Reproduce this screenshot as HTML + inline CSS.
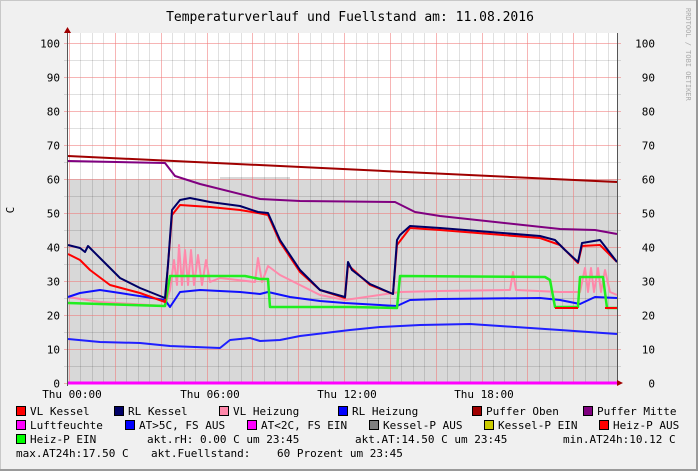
<!DOCTYPE html><html><head><style>body{margin:0;background:#f0f0f0}svg{display:block}</style></head><body>
<svg width="698" height="471" xmlns="http://www.w3.org/2000/svg" font-family="DejaVu Sans Mono, Liberation Mono, monospace" font-size="11">
<rect x="0" y="0" width="698" height="471" fill="#f0f0f0"/>
<rect x="0.5" y="0.5" width="697" height="470" fill="none" stroke="#c8c8c8"/>
<line x1="0" y1="470" x2="698" y2="470" stroke="#9a9a9a" stroke-width="2"/><line x1="697" y1="0" x2="697" y2="471" stroke="#9a9a9a" stroke-width="2"/>
<text x="350" y="21" text-anchor="middle" font-size="13">Temperaturverlauf und Fuellstand am: 11.08.2016</text>
<text x="0" y="0" transform="translate(686,8) rotate(90)" font-size="7" fill="#aaa">RRDTOOL / TOBI OETIKER</text>
<rect x="68" y="33" width="549" height="350" fill="#fff"/>
<rect x="68" y="179" width="549" height="204" fill="#d8d8d8"/>
<rect x="220" y="177" width="70" height="2" fill="#d8d8d8"/>
<g stroke="#ddd" stroke-width="1" id="minor"></g>
<g id="grid"></g>
<text x="14" y="210" font-size="11" transform="rotate(-90 14 210)" text-anchor="middle">C</text>
<g fill="none" stroke-width="2" stroke-linejoin="round">
<polyline stroke="#a00000" points="68,156 617,182"/>
<polyline stroke="#800080" points="68,161 165,163 175,176 200,184 260,199 300,201 395,202 415,212 440,216 560,229 595,230 617,234"/>
<polyline stroke="#2020ff" points="68,339 100,342 140,343 170,346 220,348 230,340 250,338 260,341 280,340 300,336 350,330 380,327 420,325 470,324 500,326 560,330 617,334"/>
<polyline stroke="#ff88aa" points="68,297 100,302 165,306 170,290 174,260 177,285 179,245 182,285 185,250 188,285 191,250 194,285 198,255 202,285 206,260 210,282 220,278 255,282 258,258 262,282 268,266 280,275 320,295 345,300 400,292 440,291 510,290 513,272 516,290 560,292 580,292 585,268 588,292 591,268 594,292 598,268 601,292 605,270 610,292 617,295"/>
<polyline stroke="#1010ff" points="68,297 80,293 100,290 120,293 165,300 170,307 180,292 200,290 240,292 260,294 268,292 290,297 320,301 345,303 397,306 410,300 440,299 540,298 560,300 580,304 595,297 617,298"/>
<polyline stroke="#20ee20" stroke-width="2.5" points="68,303 165,306 170,276 245,276 260,279 268,279 270,307 350,307 397,308 400,276 545,277 550,280 555,307 578,307 580,277 603,277 607,308 617,308"/>
<polyline stroke="#ff0000" points="68,254 80,260 90,270 110,285 140,293 165,302 172,215 180,205 210,207 240,210 258,213 268,215 280,242 300,272 320,290 345,298 348,265 370,285 393,294 397,245 410,228 440,230 540,238 560,245 578,263 582,246 600,245 617,262"/>
<polyline stroke="#ff0000" points="555,308 578,308"/><polyline stroke="#ff0000" points="605,308 617,308"/>
<polyline stroke="#000066" points="68,245 80,248 85,252 88,246 100,258 120,278 140,288 165,298 168,265 172,210 180,200 190,198 210,202 240,206 258,212 268,213 280,240 300,270 320,290 345,297 348,262 352,270 370,284 393,294 397,240 400,235 410,226 440,228 540,236 555,240 565,250 578,262 582,243 600,240 617,262"/>
</g>
<line x1="68" y1="383" x2="617" y2="383" stroke="#ff00ff" stroke-width="3"/>
<line x1="67.5" y1="30" x2="67.5" y2="386" stroke="#555"/>
<polygon points="64,33 71,33 67.5,27" fill="#a00000"/>
<line x1="617.5" y1="33" x2="617.5" y2="383" stroke="#555"/>
<polygon points="617,380 617,386 623,383" fill="#a00000"/>
<g id="ylab" text-anchor="end"></g>
<g text-anchor="middle"><text x="72" y="398">Thu 00:00</text><text x="210" y="398">Thu 06:00</text><text x="347" y="398">Thu 12:00</text><text x="484" y="398">Thu 18:00</text></g>
<g stroke="#000" stroke-width="1">
<rect x="16.5" y="406.5" width="9" height="9" fill="#ff0000"/><rect x="114.5" y="406.5" width="9" height="9" fill="#000066"/><rect x="219.5" y="406.5" width="9" height="9" fill="#ff88aa"/><rect x="338.5" y="406.5" width="9" height="9" fill="#0000ff"/><rect x="472.5" y="406.5" width="9" height="9" fill="#a00000"/><rect x="583.5" y="406.5" width="9" height="9" fill="#800080"/>
<rect x="16.5" y="420.5" width="9" height="9" fill="#ff00ff"/><rect x="125.5" y="420.5" width="9" height="9" fill="#0000ff"/><rect x="247.5" y="420.5" width="9" height="9" fill="#ff00ff"/><rect x="369.5" y="420.5" width="9" height="9" fill="#808080"/><rect x="484.5" y="420.5" width="9" height="9" fill="#cccc00"/><rect x="599.5" y="420.5" width="9" height="9" fill="#ff0000"/>
<rect x="16.5" y="434.5" width="9" height="9" fill="#00ff00"/>
</g>
<g>
<text x="30" y="415">VL Kessel</text><text x="128" y="415">RL Kessel</text><text x="233" y="415">VL Heizung</text><text x="352" y="415">RL Heizung</text><text x="486" y="415">Puffer Oben</text><text x="597" y="415">Puffer Mitte</text>
<text x="30" y="429">Luftfeuchte</text><text x="139" y="429">AT&gt;5C, FS AUS</text><text x="261" y="429">AT&lt;2C, FS EIN</text><text x="383" y="429">Kessel-P AUS</text><text x="498" y="429">Kessel-P EIN</text><text x="613" y="429">Heiz-P AUS</text>
<text x="30" y="443">Heiz-P EIN</text><text x="147" y="443">akt.rH: 0.00 C um 23:45</text><text x="355" y="443">akt.AT:14.50 C um 23:45</text><text x="563" y="443">min.AT24h:10.12 C</text>
<text x="16" y="457">max.AT24h:17.50 C</text><text x="151" y="457">akt.Fuellstand:</text><text x="277" y="457">60 Prozent um 23:45</text>
</g>
<script>
var ns="http://www.w3.org/2000/svg",m=document.getElementById("minor"),g=document.getElementById("grid"),yl=document.getElementById("ylab");
function L(p,x1,y1,x2,y2,c){var l=document.createElementNS(ns,"line");l.setAttribute("x1",x1);l.setAttribute("y1",y1);l.setAttribute("x2",x2);l.setAttribute("y2",y2);l.setAttribute("stroke",c);l.setAttribute("stroke-width",1);p.appendChild(l);}
for(var i=0;i<48;i++){var x=Math.round(69+11.46*i)+0.5;if(x>617)break;L(i%4==0?g:m,x,33,x,383,i%4==0?"rgba(240,120,120,0.55)":"rgba(0,0,0,0.12)");}
for(var v=0;v<=100;v+=5){var y=Math.round(383-3.4*v)+0.5;L(v%10==0?g:m,64,y,621,y,v%10==0?"rgba(240,120,120,0.55)":"rgba(0,0,0,0.12)");
if(v%10==0){var t=document.createElementNS(ns,"text");t.setAttribute("x",60);t.setAttribute("y",y+4);t.textContent=v;yl.appendChild(t);var t2=document.createElementNS(ns,"text");t2.setAttribute("x",655);t2.setAttribute("y",y+4);t2.textContent=v;yl.appendChild(t2);}}
</script>
</svg></body></html>
